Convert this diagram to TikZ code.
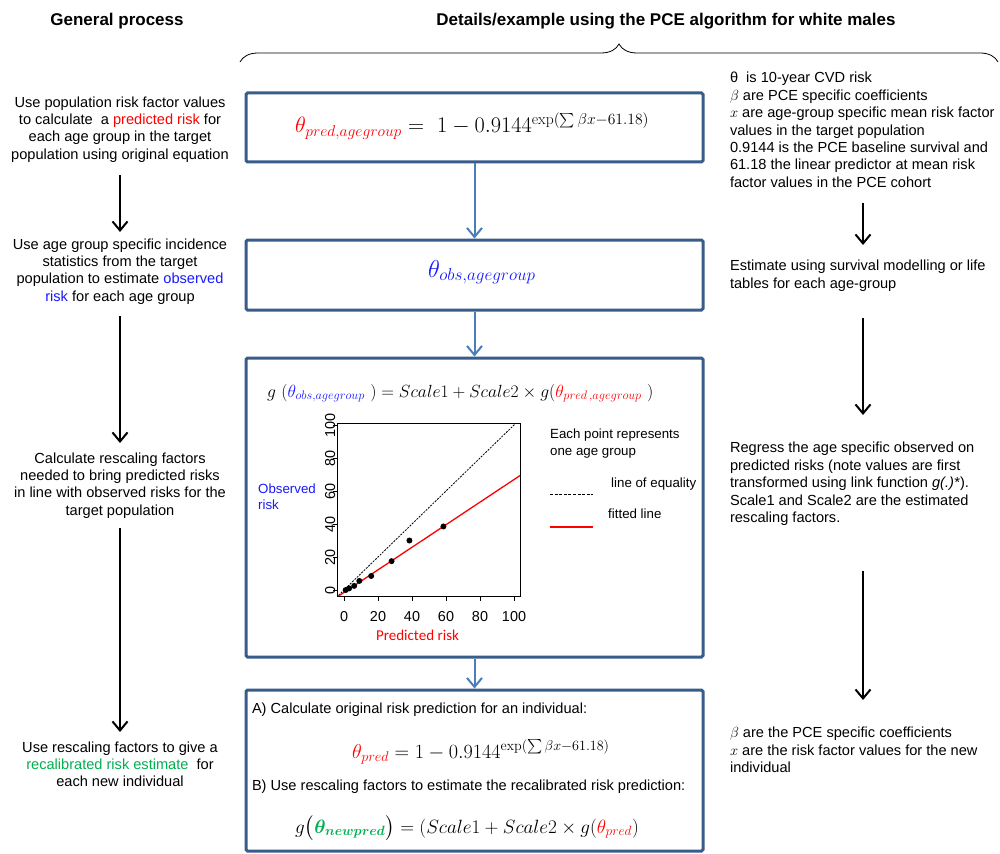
\RequirePackage{fix-cm}
\documentclass[tikz,border=0pt]{standalone}
\usepackage{amsmath}
\usepackage{bm}
\usepackage{fontspec}
\newfontfamily\arial{Liberation Sans}
\newfontfamily\calib{Carlito}
\usetikzlibrary{arrows.meta,decorations.pathreplacing}
\definecolor{boxc}{RGB}{56,93,138}
\definecolor{arrc}{RGB}{74,126,187}
\definecolor{rd}{RGB}{255,0,0}
\definecolor{bl}{RGB}{25,25,255}
\definecolor{gr}{RGB}{0,176,80}
\newcommand\bodyfont{\arial\fontsize{14.6}{17.4}\selectfont}
\begin{document}
\begin{tikzpicture}[x=1pt,y=-1pt,
  bodytxt/.style={font=\bodyfont, inner sep=0pt, outer sep=0pt},
  lefttxt/.style={bodytxt, align=center, anchor=north},
  righttxt/.style={bodytxt, align=left, anchor=north west},
  procbox/.style={draw=boxc, line width=3pt, rounded corners=1.5pt, inner sep=0pt, minimum width=457pt},
  blarrow/.style={draw=arrc, line width=2pt, -{Straight Barb[length=9pt,width=15pt]}},
  bkarrow/.style={draw=black, line width=2pt, -{Straight Barb[length=9pt,width=15pt]}},
  hdr/.style={font=\arial\bfseries\fontsize{17}{20}\selectfont, inner sep=0pt, anchor=base},
  eqn/.style={anchor=base west, inner sep=0pt},
  ticklab/.style={font=\arial\fontsize{14.4}{16}\selectfont, inner sep=0pt},
  legtxt/.style={font=\arial\fontsize{13.3}{17}\selectfont, inner sep=0pt},
  dot/.style={fill=black}
  ]
\useasboundingbox[fill=white] (0,0) rectangle (1000,853);

% headers
\node[hdr] (h1) at (117,26) {General process};
\node[hdr] (h2) at (666,26) {Details/example using the PCE algorithm for white males};
\coordinate (brL) at (240,62);
\coordinate (brR) at (998,62);
\draw[decorate, decoration={brace, amplitude=18pt}, line width=0.8pt] (brL) -- (brR);

% boxes
\node[procbox, minimum height=69pt] (b1) at (474.5,127.5) {};
\node[procbox, minimum height=70pt] (b2) at (474.5,275) {};
\node[procbox, minimum height=299pt] (b3) at (474.5,507.5) {};
\node[procbox, minimum height=161pt] (b4) at (474.5,770.5) {};
\draw[blarrow] (b1.south) -- (b2.north);
\draw[blarrow] (b2.south) -- (b3.north);
\draw[blarrow] (b3.south) -- (b4.north);

% formulas
\node[eqn, font=\fontsize{22.3}{26}\selectfont] (f1) at (295,133)
  {$\color{rd}\theta_{pred,agegroup}\color{black} = \ 1 - 0.9144^{\exp(\sum\beta x - 61.18)}$};
\node[eqn, font=\fontsize{24.5}{28}\selectfont] (f2) at (428,277)
  {$\color{bl}\theta_{obs,agegroup}$};
\node[eqn, font=\fontsize{17.6}{20}\selectfont] (f3) at (267,397)
  {$g\ ({\color{bl}\theta_{obs,agegroup}}\ ) = Scale1 + Scale2 \times g({\color{rd}\theta_{pred\,,agegroup}}\ )$};
\node[eqn, bodytxt, anchor=base west] (ta) at (252,713) {A) Calculate original risk prediction for an individual:};
\node[eqn, font=\fontsize{20.2}{24}\selectfont] (f4) at (352,758)
  {${\color{rd}\theta_{pred}} = 1 - 0.9144^{\exp(\sum\beta x - 61.18)}$};
\node[eqn, bodytxt, anchor=base west] (tb) at (252,790) {B) Use rescaling factors to estimate the recalibrated risk prediction:};
\node[eqn, font=\fontsize{19.2}{22}\selectfont] (f5) at (295,833)
  {$g\bigl({\color{gr}\bm{\theta_{newpred}}}\bigr) = (Scale1 + Scale2 \times g({\color{rd}\theta_{pred}})$};

% plot
\begin{scope}[shift={(344,590)}, x=1.7pt, y=1.65pt]
  \begin{scope}
    \clip (-4,-4) rectangle (104,101);
    \draw[line width=0.8pt, dash pattern=on 2pt off 1.2pt] (-10,-10) -- (110,110);
    \draw[rd, line width=1.3pt] (-10,{-1.46-6.84}) -- (110,{-1.46+75.24});
  \end{scope}
  \draw[line width=1.3pt] (-4,-4) rectangle (104,101);
  \foreach \d in {0,20,...,100} {
    \draw[line width=1pt] (\d,-4) -- ++(0,-2.4);
    \draw[line width=1pt] (-4,\d) -- ++(-2.4,0);
    \node[ticklab] at (\d,-15.8) {\d};
    \node[ticklab, rotate=90] at (-8.2,\d) {\d};
  }
  \foreach \px/\py in {1/0,3/1,6/2.5,9/5.5,16/8.5,28/17.5,38.5/30,58.5/38.5} {
    \fill[dot] (\px,\py) circle[radius=3pt];
  }
\end{scope}
\node[legtxt, anchor=base west, text=bl, align=left] (ylab) at (258,493) {Observed};
\node[legtxt, anchor=base west, text=bl] (ylab2) at (258,509) {risk};
\node[anchor=base, inner sep=0pt, font=\calib\fontsize{15}{18}\selectfont, text=rd] (xlab) at (417.5,640) {Predicted risk};
\node[legtxt, anchor=base west] (lg1) at (550,438) {Each point represents};
\node[legtxt, anchor=base west] (lg2) at (550,455) {one age group};
\coordinate (le1) at (550,494);
\coordinate (le2) at (593,494);
\draw[line width=0.9pt, dash pattern=on 3pt off 1.6pt] (le1) -- (le2);
\node[legtxt, anchor=base west] (lg3) at (611,487) {line of equality};
\coordinate (lf1) at (550,527);
\coordinate (lf2) at (593,527);
\draw[rd, line width=1.3pt] (lf1) -- (lf2);
\node[legtxt, anchor=base west] (lg4) at (608,518) {fitted line};

% left column
\node[lefttxt] (l1) at (120,96.5) {Use population risk factor values\\
  to calculate\ \ a \textcolor{rd}{predicted risk} for\\
  each age group in the target\\
  population using original equation};
\node[lefttxt] (l2) at (120,238.5) {Use age group specific incidence\\
  statistics from the target\\
  population to estimate \textcolor{bl}{observed}\\
  \textcolor{bl}{risk} for each age group};
\node[lefttxt] (l3) at (120,452.5) {Calculate rescaling factors\\
  needed to bring predicted risks\\
  in line with observed risks for the\\
  target population};
\node[lefttxt] (l4) at (120,741.5) {Use rescaling factors to give a\\
  \textcolor{gr}{recalibrated risk estimate}\ \ for\\
  each new individual};
\draw[bkarrow, shorten <=12.6pt, shorten >=6.5pt] (l1.south) -- (l2.north);
\draw[bkarrow, shorten <=12pt, shorten >=9.5pt] (l2.south) -- (l3.north);
\draw[bkarrow, shorten <=10pt, shorten >=9.5pt] (l3.south) -- (l4.north);

% right column
\coordinate (rx) at (863,0);
\node[righttxt] (r1) at (730,72.4) {{\arial θ}\ \ is 10-year CVD risk\\
  $\beta$ are PCE specific coefficients\\
  $x$ are age-group specific mean risk factor\\
  values in the target population\\
  0.9144 is the PCE baseline survival and\\
  61.18 the linear predictor at mean risk\\
  factor values in the PCE cohort};
\node[righttxt] (r2) at (730,260.4) {Estimate using survival modelling or life\\
  tables for each age-group};
\node[righttxt] (r3) at (730,442.4) {Regress the age specific observed on\\
  predicted risks (note values are first\\
  transformed using link function \textit{g(.)*}).\\
  Scale1 and Scale2 are the estimated\\
  rescaling factors.};
\node[righttxt] (r4) at (730,727.4) {$\beta$ are the PCE specific coefficients\\
  $x$ are the risk factor values for the new\\
  individual};
\draw[bkarrow, shorten <=15pt, shorten >=15.4pt] (r1.south -| rx) -- (r2.north -| rx);
\draw[bkarrow, shorten <=27pt, shorten >=27.4pt] (r2.south -| rx) -- (r3.north -| rx);
\draw[bkarrow, shorten <=45pt, shorten >=27.4pt] (r3.south -| rx) -- (r4.north -| rx);
\end{tikzpicture}
\end{document}
